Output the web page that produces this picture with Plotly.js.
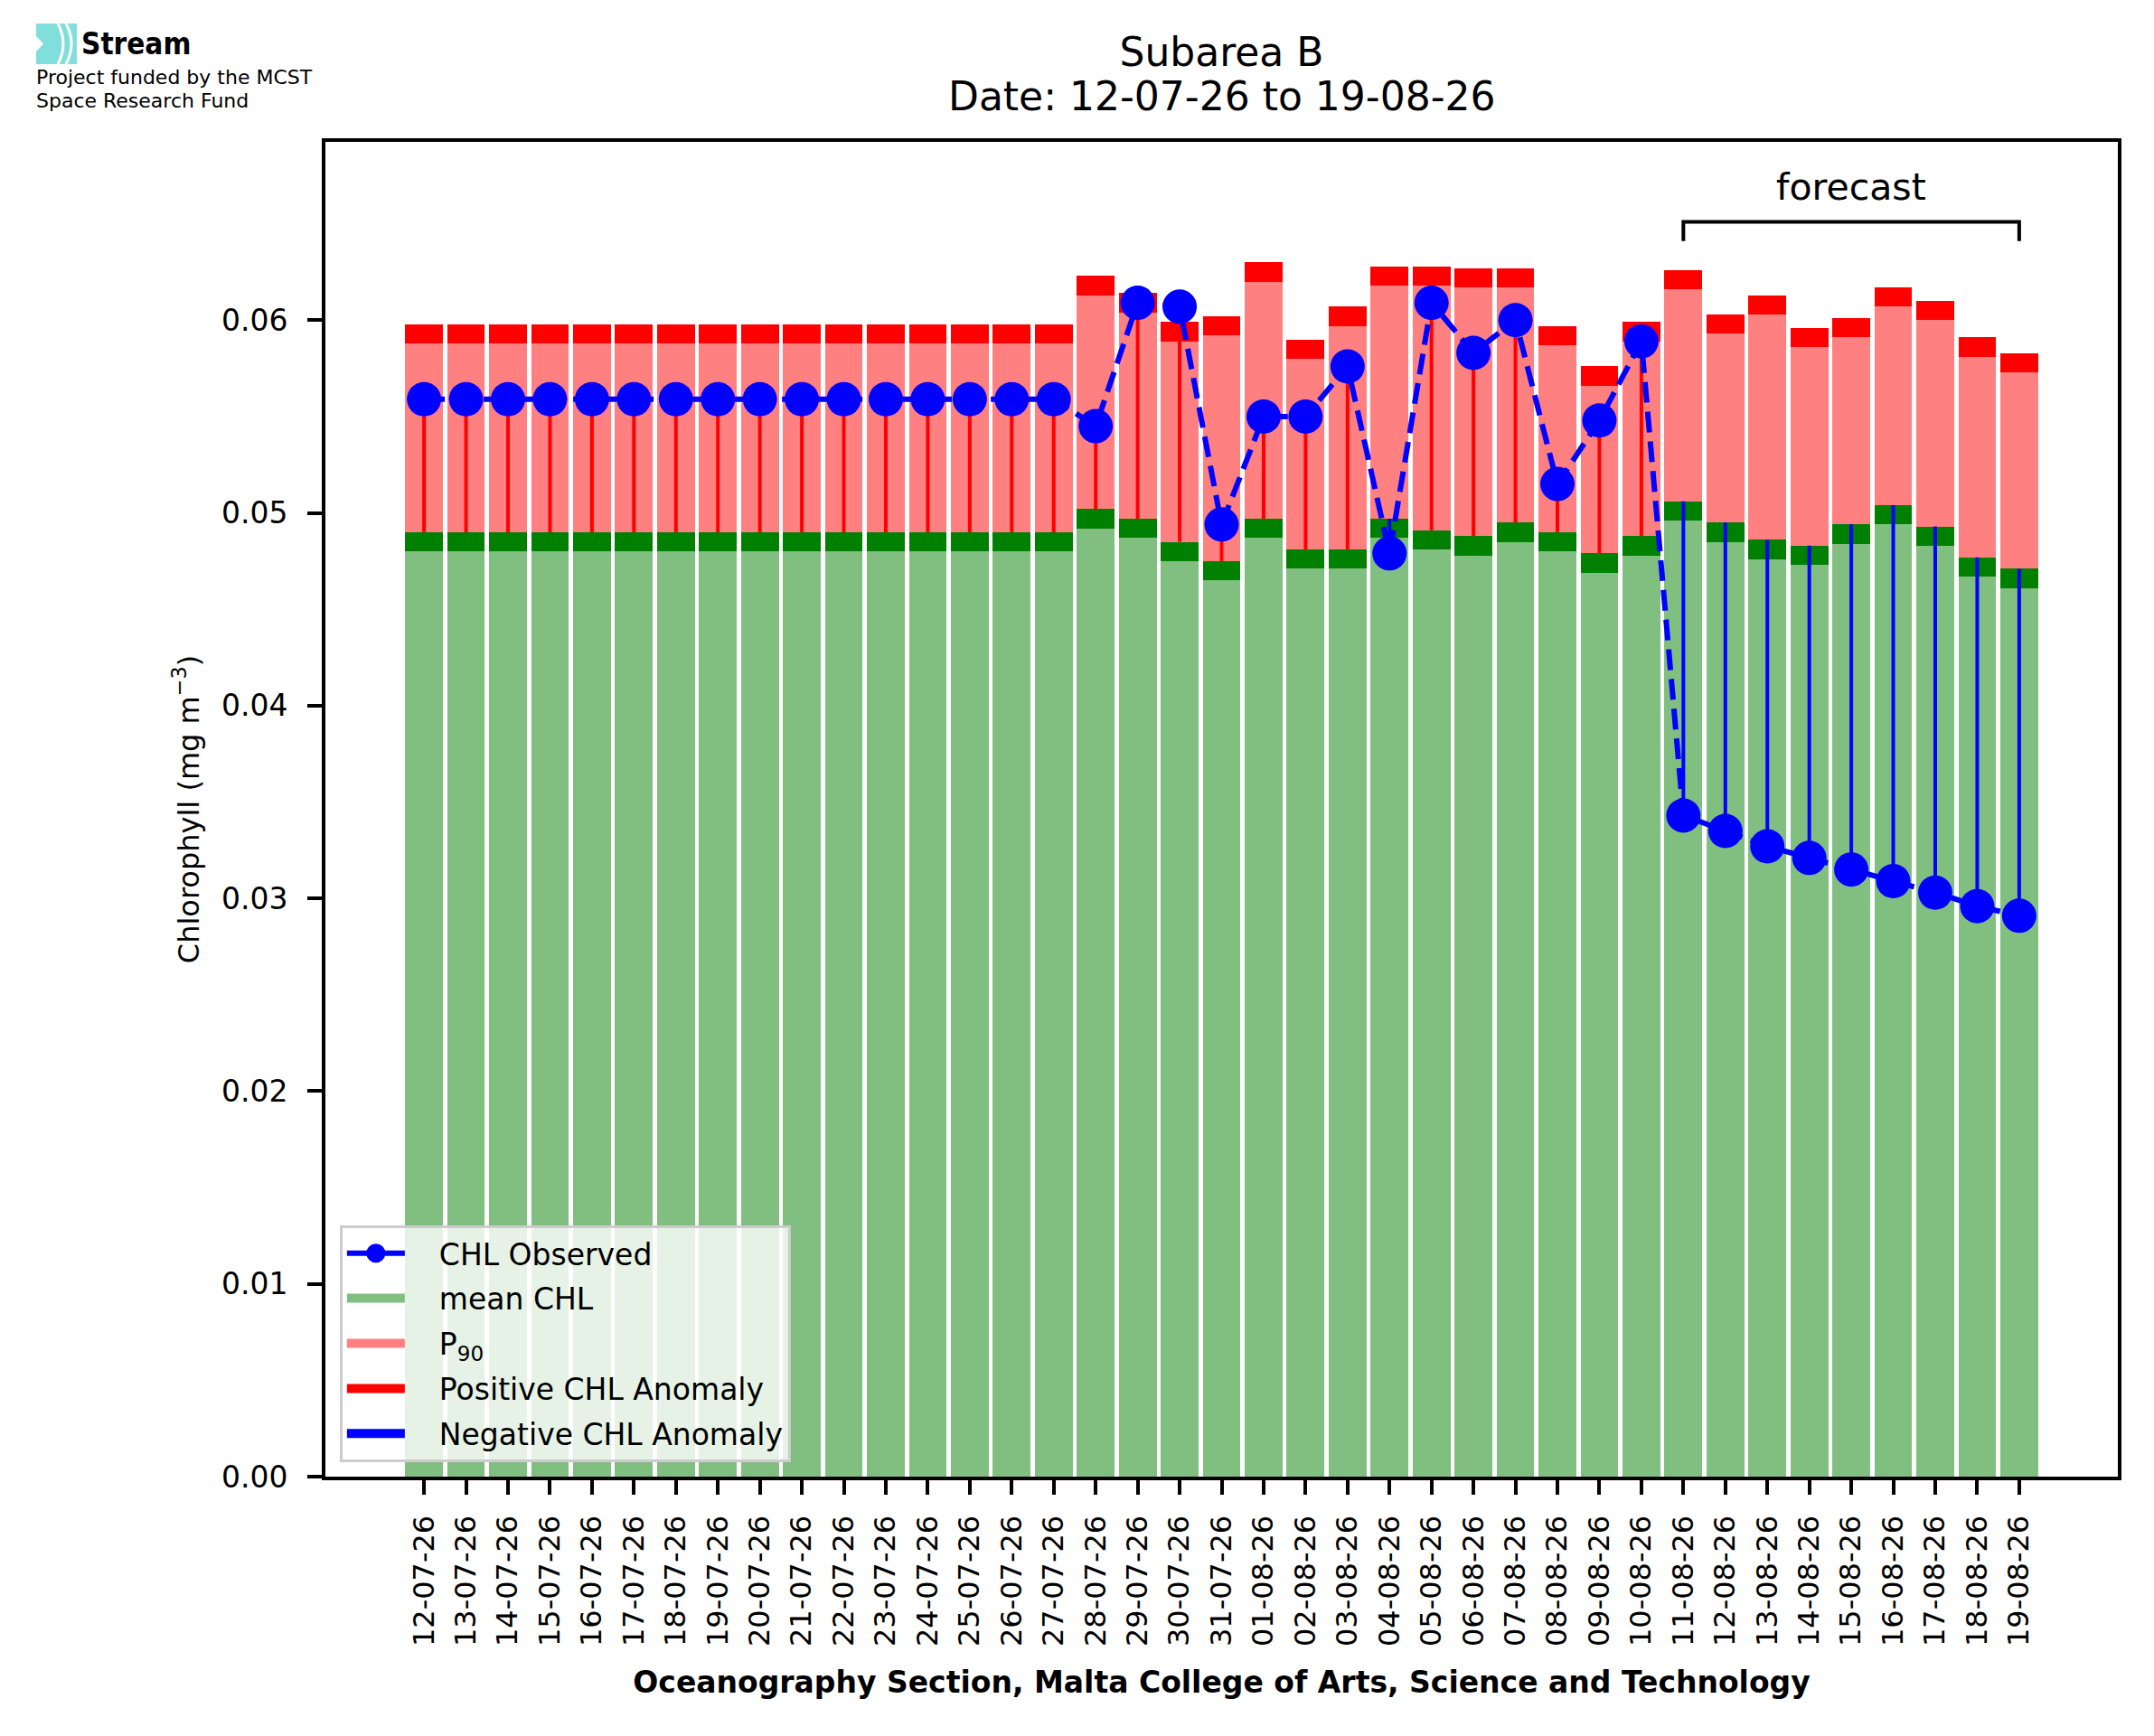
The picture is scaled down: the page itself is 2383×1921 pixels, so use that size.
<!DOCTYPE html>
<html>
<head>
<meta charset="utf-8">
<script src="https://cdn.plot.ly/plotly-3.0.1.min.js"></script>
<style>
  body { margin: 0; background: #fff; }
  #chart { width: 2383px; height: 1921px; }
</style>
</head>
<body>
<div id="chart"></div>
<script>
// x axis categories (one bar per day)
var dates = ["12-07-26","13-07-26","14-07-26","15-07-26","16-07-26","17-07-26","18-07-26","19-07-26",
             "20-07-26","21-07-26","22-07-26","23-07-26","24-07-26","25-07-26","26-07-26","27-07-26",
             "28-07-26","29-07-26","30-07-26","31-07-26","01-08-26","02-08-26","03-08-26","04-08-26",
             "05-08-26","06-08-26","07-08-26","08-08-26","09-08-26","10-08-26","11-08-26","12-08-26",
             "13-08-26","14-08-26","15-08-26","16-08-26","17-08-26","18-08-26","19-08-26"];

// climatological mean CHL (top of the light green bar)
var meanChl = [0.0480,0.0480,0.0480,0.0480,0.0480,0.0480,0.0480,0.0480,
               0.0480,0.0480,0.0480,0.0480,0.0480,0.0480,0.0480,0.0480,
               0.0492,0.0487,0.0475,0.0465,0.0487,0.0471,0.0471,0.0487,
               0.0481,0.0478,0.0485,0.0480,0.0469,0.0478,0.0496,0.0485,
               0.0476,0.0473,0.0484,0.0494,0.0483,0.0467,0.0461];

// 90th percentile (top of the light red bar)
var p90 = [0.0588,0.0588,0.0588,0.0588,0.0588,0.0588,0.0588,0.0588,
           0.0588,0.0588,0.0588,0.0588,0.0588,0.0588,0.0588,0.0588,
           0.0613,0.0604,0.0589,0.0592,0.0620,0.0580,0.0597,0.0618,
           0.0618,0.0617,0.0617,0.0587,0.0566,0.0589,0.0616,0.0593,
           0.0603,0.0586,0.0591,0.0607,0.0600,0.0581,0.0573];

// observed / forecast CHL
var chlObserved = [0.0559,0.0559,0.0559,0.0559,0.0559,0.0559,0.0559,0.0559,
                   0.0559,0.0559,0.0559,0.0559,0.0559,0.0559,0.0559,0.0559,
                   0.0545,0.0609,0.0607,0.0494,0.0550,0.0550,0.0576,0.0479,
                   0.0609,0.0583,0.0600,0.0515,0.0548,0.0589,0.0343,0.0335,
                   0.0327,0.0321,0.0315,0.0309,0.0303,0.0296,0.0291];

var bandHeight = 0.001;   // dark green / red band thickness

// forecast bracket
var forecastStart = "11-08-26";
var forecastEnd = "19-08-26";
var forecastMid = "15-08-26";
var bracketLow = 0.0641;
var bracketTop = 0.0651;
var forecastTextY = 0.0669;

var yTicks = [0, 0.01, 0.02, 0.03, 0.04, 0.05, 0.06];

// plot area in pixels, used to place the logo and the date line
var plotLeft = 360, plotRight = 2343, plotTop = 157, plotBottom = 1634;
function px(x) { return (x - plotLeft) / (plotRight - plotLeft); }
function py(y) { return (plotBottom - y) / (plotBottom - plotTop); }

function createGraph() {

    var band = [], pale = [];
    var posX = [], posY = [], negX = [], negY = [];

    for (var i = 0; i < dates.length; i++) {
        band.push(bandHeight);
        pale.push(p90[i] - meanChl[i] - bandHeight);

        var base = meanChl[i] + bandHeight;
        if (chlObserved[i] > base) {
            posX.push(dates[i], dates[i], null);
            posY.push(base, chlObserved[i], null);
        } else {
            negX.push(dates[i], dates[i], null);
            negY.push(base, chlObserved[i], null);
        }
    }

    var barBase = {type: "bar", x: dates, showlegend: false, hoverinfo: "skip"};
    var pad = "\u2003";   // space between legend swatch and label

    var data = [
        Object.assign({}, barBase, {y: meanChl, marker: {color: "#80bf80", line: {width: 0}}}),
        Object.assign({}, barBase, {y: band, marker: {color: "#008000", line: {width: 0}}}),
        Object.assign({}, barBase, {y: pale, marker: {color: "#ff8080", line: {width: 0}}}),
        Object.assign({}, barBase, {y: band, marker: {color: "#ff0000", line: {width: 0}}}),
        // anomaly stems
        {type: "scatter", mode: "lines", x: posX, y: posY, showlegend: false,
         line: {color: "#ff0000", width: 4}, hoverinfo: "skip"},
        {type: "scatter", mode: "lines", x: negX, y: negY, showlegend: false,
         line: {color: "#0000ff", width: 4}, hoverinfo: "skip"},
        // forecast bracket
        {type: "scatter", mode: "lines", showlegend: false, hoverinfo: "skip",
         x: [forecastStart, forecastStart, forecastEnd, forecastEnd],
         y: [bracketLow, bracketTop, bracketTop, bracketLow],
         line: {color: "#000", width: 4}},
        // legend entries
        {type: "scatter", mode: "lines+markers", x: [null], y: [null], name: pad + "CHL Observed",
         legendrank: 1, legendgroup: "g1",
         line: {color: "#0000ff", width: 6},
         marker: {color: "#0000ff", size: 38, line: {color: "#0000ff", width: 5}}},
        {type: "scatter", mode: "lines", x: [null], y: [null], name: pad + "mean CHL",
         legendrank: 2, legendgroup: "g2", line: {color: "#80bf80", width: 22}},
        {type: "scatter", mode: "lines", x: [null], y: [null], name: pad + "P<sub>90</sub>",
         legendrank: 3, legendgroup: "g3", line: {color: "#ff8080", width: 22}},
        {type: "scatter", mode: "lines", x: [null], y: [null], name: pad + "Positive CHL Anomaly",
         legendrank: 4, legendgroup: "g4", line: {color: "#ff0000", width: 22}},
        {type: "scatter", mode: "lines", x: [null], y: [null], name: pad + "Negative CHL Anomaly",
         legendrank: 5, legendgroup: "g5", line: {color: "#0000ff", width: 22}},
        // observed line
        {type: "scatter", mode: "lines+markers", x: dates, y: chlObserved, name: "CHL Observed",
         showlegend: false,
         line: {color: "#0000ff", width: 6, dash: "23px,10px"},
         marker: {color: "#0000ff", size: 38}}
    ];

    var font = "DejaVu Sans, Verdana, sans-serif";

    var layout = {
        width: 2383, height: 1921,
        paper_bgcolor: "#fff", plot_bgcolor: "#fff",
        font: {family: font, color: "#000", size: 33},
        margin: {l: plotLeft, r: 2383 - plotRight, t: plotTop, b: 1921 - plotBottom, pad: 0},
        barmode: "stack", bargap: 0.1,
        title: {text: "Subarea B",
                font: {size: 44, family: font, color: "#000"},
                x: 0.5, xref: "paper", xanchor: "center",
                y: 1 - 58 / 1921, yref: "container", yanchor: "middle"},
        xaxis: {type: "category", categoryorder: "array", categoryarray: dates,
                range: [-2.35, 40.35], tickangle: -90,
                ticks: "outside", ticklen: 16, tickwidth: 4, tickcolor: "#000",
                showline: true, linewidth: 4, linecolor: "#000", mirror: true,
                showgrid: false, zeroline: false, ticklabelstandoff: 10,
                tickfont: {size: 32},
                title: {text: "<b>Oceanography Section, Malta College of Arts, Science and Technology</b>",
                        font: {size: 33}, standoff: 30}},
        yaxis: {range: [0, 0.06925], tickvals: yTicks, tickformat: ".2f",
                ticks: "outside", ticklen: 16, tickwidth: 4, tickcolor: "#000",
                showline: true, linewidth: 4, linecolor: "#000", mirror: true,
                showgrid: false, zeroline: false, ticklabelstandoff: 15,
                tickfont: {size: 33},
                title: {text: "Chlorophyll (mg m<sup>\u22123</sup>)", font: {size: 32}, standoff: 16}},
        legend: {x: 0.008, y: 0.011, xanchor: "left", yanchor: "bottom",
                 bgcolor: "rgba(255,255,255,0.8)", bordercolor: "#cccccc", borderwidth: 3,
                 font: {size: 33}, itemwidth: 64, traceorder: "grouped", tracegroupgap: 4},
        annotations: [
            // second title line
            {text: "Date: 12-07-26 to 19-08-26", x: 0.5, y: py(107), xref: "paper", yref: "paper",
             showarrow: false, xanchor: "center", yanchor: "middle", font: {size: 44}},
            {text: "forecast", x: forecastMid, y: forecastTextY, xref: "x", yref: "y",
             showarrow: false, font: {size: 41}, xanchor: "center", yanchor: "middle"},
            // logo text
            {text: "<b>Stream</b>", x: px(88), y: py(49), xref: "paper", yref: "paper",
             showarrow: false, xanchor: "left", yanchor: "middle",
             font: {size: 33, family: "DejaVu Sans Condensed, Liberation Sans Narrow, DejaVu Sans"}},
            {text: "Project funded by the MCST", x: px(38), y: py(86), xref: "paper", yref: "paper",
             showarrow: false, xanchor: "left", yanchor: "middle", font: {size: 22}},
            {text: "Space Research Fund", x: px(38), y: py(111), xref: "paper", yref: "paper",
             showarrow: false, xanchor: "left", yanchor: "middle", font: {size: 22}}
        ],
        shapes: [
            // logo icon: cyan block with white arcs
            {type: "rect", xref: "paper", yref: "paper", x0: px(40), x1: px(85), y0: py(71), y1: py(26),
             fillcolor: "#80dfdb", line: {width: 0}},
            {type: "path", xref: "paper", yref: "paper", line: {color: "#fff", width: 3},
             path: "M" + px(64) + "," + py(26) + " Q" + px(76) + "," + py(48.5) + " " + px(64) + "," + py(71)},
            {type: "path", xref: "paper", yref: "paper", line: {color: "#fff", width: 3},
             path: "M" + px(73) + "," + py(26) + " Q" + px(85) + "," + py(48.5) + " " + px(73) + "," + py(71)},
            {type: "path", xref: "paper", yref: "paper", line: {width: 0}, fillcolor: "#fff",
             path: "M" + px(40) + "," + py(40) + " L" + px(48) + "," + py(48.5) + " L" + px(40) + "," + py(57) + " Z"}
        ]
    };

    Plotly.newPlot("chart", data, layout, {displayModeBar: false, responsive: false});
}

createGraph();
</script>
</body>
</html>
